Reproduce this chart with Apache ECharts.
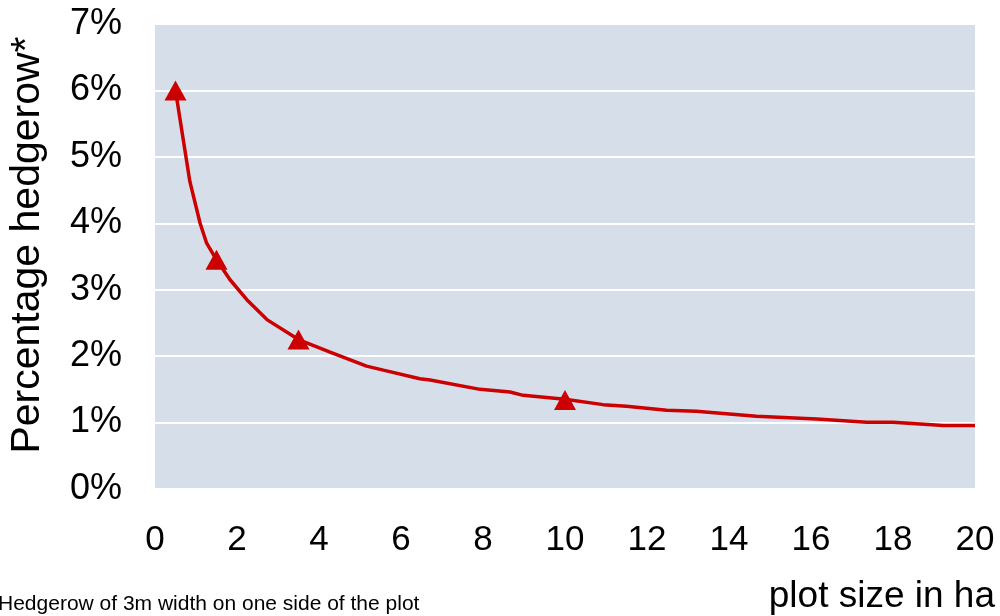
<!DOCTYPE html>
<html>
<head>
<meta charset="utf-8">
<script src="https://cdn.jsdelivr.net/npm/echarts@6/dist/echarts.min.js"></script>
<style>html,body{margin:0;padding:0;background:#fff}#c{width:1000px;height:616px}</style>
</head>
<body>
<div id="c"></div>
<script>
// Curve: plot size (ha) vs percentage hedgerow (%)
const curveX = [0.5, 0.85, 1.1, 1.26, 1.5, 1.83, 2.24, 2.73, 3.5, 4.27, 5.16, 5.57, 6.46, 6.71, 7.93, 8.66, 8.98, 10, 10.93, 11.5, 12.48, 13.2, 14.67, 16.14, 17.36, 18.0, 19.23, 20];
const curveY = [6.0, 4.63, 4.0, 3.70, 3.45, 3.15, 2.85, 2.55, 2.25, 2.06, 1.85, 1.79, 1.66, 1.64, 1.50, 1.46, 1.41, 1.35, 1.27, 1.245, 1.185, 1.17, 1.095, 1.055, 1.005, 1.005, 0.955, 0.955];
// Highlighted points (triangles)
const markX = [0.5, 1.5, 3.5, 10];
const markY = [6.0, 3.45, 2.25, 1.34];
const xTicks = [0, 2, 4, 6, 8, 10, 12, 14, 16, 18, 20];
const yTicks = [0, 1, 2, 3, 4, 5, 6, 7];
const yAxisTitle = 'Percentage hedgerow*';
const xAxisTitle = 'plot size in ha';
const footnote = 'Hedgerow of 3m width on one side of the plot';

const FONT = '"Liberation Sans", Arial, sans-serif';
const chart = echarts.init(document.getElementById('c'), null, {renderer: 'canvas'});
chart.setOption({
  animation: false,
  backgroundColor: '#ffffff',
  grid: {left: 155, right: 25, top: 24, bottom: 127, show: true, backgroundColor: '#d6dee9', borderWidth: 0},
  xAxis: {
    type: 'value', min: xTicks[0], max: xTicks[xTicks.length - 1], interval: 2,
    axisLine: {show: false}, axisTick: {show: false}, splitLine: {show: false},
    axisLabel: {fontFamily: FONT, fontSize: 35, color: '#000', margin: 34}
  },
  yAxis: {
    type: 'value', min: yTicks[0], max: yTicks[yTicks.length - 1], interval: 1,
    axisLine: {show: false}, axisTick: {show: false},
    splitLine: {show: true, lineStyle: {color: '#ffffff', width: 2}},
    axisLabel: {fontFamily: FONT, fontSize: 36, color: '#000', margin: 33, formatter: '{value}%'}
  },
  series: [
    {
      type: 'line', data: curveX.map((x, i) => [x, curveY[i]]),
      symbol: 'none', smooth: false,
      lineStyle: {color: '#cc0000', width: 3.5}
    },
    {
      type: 'scatter', data: markX.map((x, i) => [x, markY[i]]),
      symbol: 'triangle', symbolSize: [22, 20],
      itemStyle: {color: '#cc0000', opacity: 1}
    }
  ],
  graphic: [
    {type: 'text', x: 28, y: 245, rotation: Math.PI / 2,
      style: {text: yAxisTitle, font: '41px ' + FONT, fill: '#000', textAlign: 'center', textVerticalAlign: 'middle'}},
    {type: 'text', x: 995, y: 597,
      style: {text: xAxisTitle, font: '37px ' + FONT, fill: '#000', textAlign: 'right', textVerticalAlign: 'middle'}},
    {type: 'text', x: -2, y: 604,
      style: {text: footnote, font: '21px ' + FONT, fill: '#000', textAlign: 'left', textVerticalAlign: 'middle'}}
  ]
});
</script>
</body>
</html>
